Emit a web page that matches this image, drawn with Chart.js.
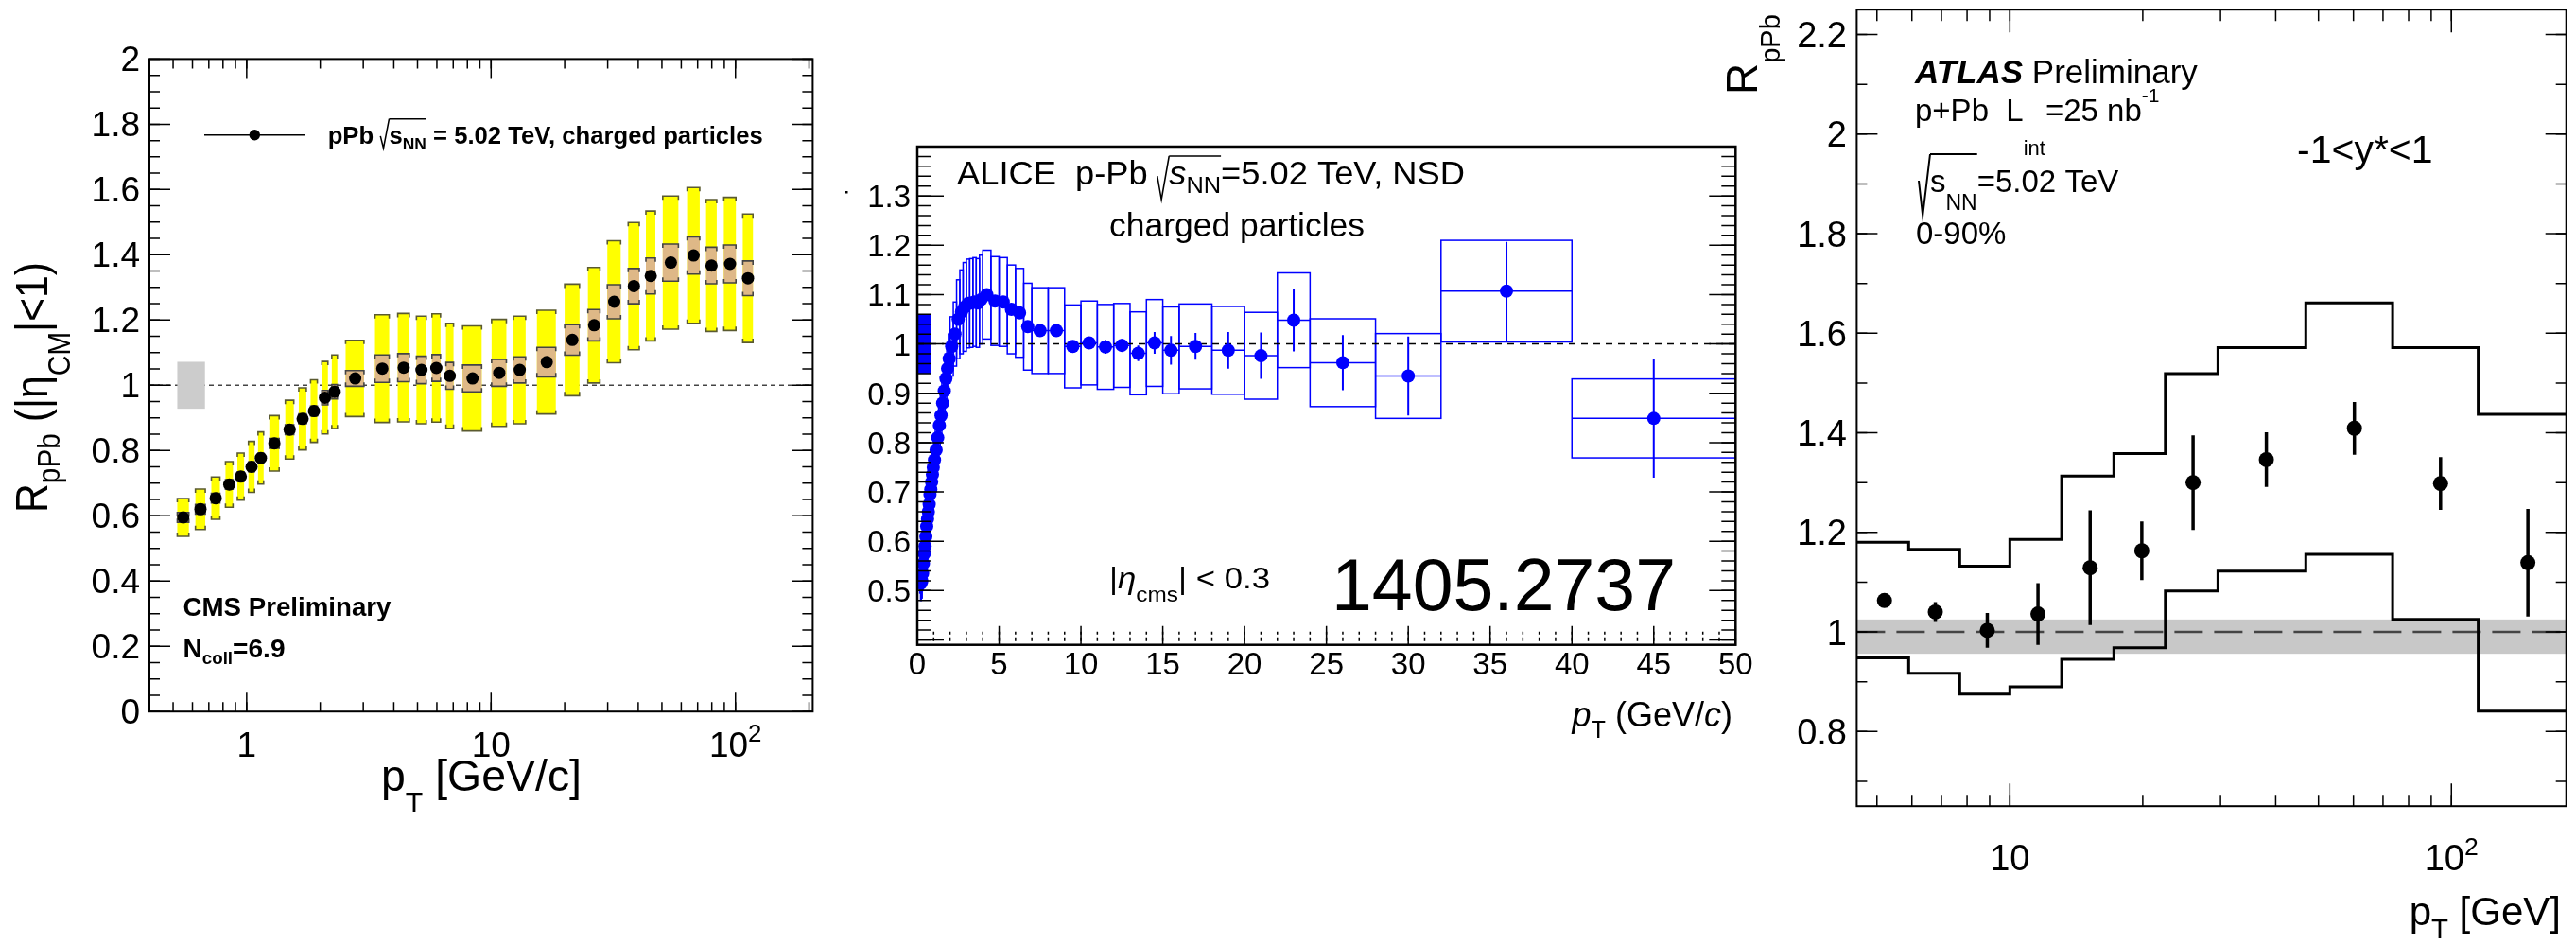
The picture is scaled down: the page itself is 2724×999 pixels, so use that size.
<!DOCTYPE html>
<html>
<head>
<meta charset="utf-8">
<script src="https://cdn.jsdelivr.net/npm/chart.js@4.4.1/dist/chart.umd.min.js"></script>
<style>
  html, body { margin: 0; padding: 0; background: #fff; }
  #wrap { position: relative; width: 2724px; height: 999px; overflow: hidden; }
  canvas { position: absolute; left: 0; top: 0; }
</style>
</head>
<body>
<div id="wrap">
  <canvas id="cms" width="2724" height="999"></canvas>
  <canvas id="alice" width="2724" height="999"></canvas>
  <canvas id="atlas" width="2724" height="999"></canvas>
</div>
<script>
// ---------- CMS data (left panel) ----------
const cmsPt = [0.55, 0.647, 0.747, 0.849, 0.946, 1.047, 1.143, 1.298, 1.499, 1.694, 1.886, 2.09, 2.29,
  2.78, 3.59, 4.39, 5.19, 5.97, 6.78, 8.4, 10.8, 13.1, 16.9, 21.5, 26.4, 31.9, 38.4, 45.0, 54.4, 67.4, 79.8, 95.0, 112.5];
const cmsR = [0.595, 0.62, 0.654, 0.696, 0.72, 0.75, 0.777, 0.822, 0.864, 0.897, 0.921, 0.962, 0.98,
  1.021, 1.051, 1.054, 1.047, 1.053, 1.029, 1.021, 1.038, 1.047, 1.071, 1.139, 1.184, 1.256, 1.304, 1.335, 1.376, 1.398, 1.367, 1.372, 1.328];
const cmsXErr = [0.03, 0.03, 0.03, 0.03, 0.03, 0.03, 0.03, 0.06, 0.06, 0.06, 0.06, 0.06, 0.06,
  0.24, 0.24, 0.24, 0.24, 0.24, 0.24, 0.75, 0.75, 0.75, 1.5, 1.5, 1.5, 2, 2, 2, 4, 4, 4, 5.4, 5.4];
const cmsSysYellow = [0.058, 0.062, 0.065, 0.07, 0.072, 0.078, 0.08, 0.085, 0.09, 0.095, 0.096, 0.111, 0.113,
  0.117, 0.165, 0.166, 0.165, 0.166, 0.161, 0.161, 0.164, 0.165, 0.159, 0.171, 0.177, 0.187, 0.195, 0.199, 0.204, 0.208, 0.202, 0.204, 0.197];
const cmsSysTan = [0.015, 0.015, 0.015, 0.015, 0.015, 0.015, 0.015, 0.015, 0.015, 0.015, 0.015, 0.022, 0.022,
  0.024, 0.042, 0.043, 0.042, 0.041, 0.041, 0.041, 0.041, 0.04, 0.045, 0.047, 0.048, 0.052, 0.054, 0.055, 0.057, 0.057, 0.056, 0.058, 0.053];
const cmsNorm = 0.072;
const cmsNormPt = [0.52, 0.675];
const cmsYTicks = [0, 0.2, 0.4, 0.6, 0.8, 1, 1.2, 1.4, 1.6, 1.8, 2];
const cmsYLabels = ['0', '0.2', '0.4', '0.6', '0.8', '1', '1.2', '1.4', '1.6', '1.8', '2'];
const cmsXTicks = [1, 10, 100];
const cmsXLabels = ['1', '10', '10^2'];

// ---------- ALICE data (middle panel) ----------
const alicePt = [0.175, 0.225, 0.275, 0.325, 0.375, 0.425, 0.475, 0.525, 0.575, 0.625, 0.675, 0.725, 0.775, 0.825, 0.875, 0.925, 0.975,
  1.05, 1.15, 1.25, 1.35, 1.45, 1.55, 1.65, 1.75, 1.85, 1.95,
  2.1, 2.3, 2.5, 2.7, 2.9, 3.1, 3.3, 3.5, 3.7, 3.9,
  4.25, 4.75, 5.25, 5.75, 6.25, 6.75, 7.5, 8.5, 9.5,
  10.5, 11.5, 12.5, 13.5, 14.5, 15.5, 17, 19, 21, 23, 26, 30, 36, 45];
const aliceXErr = [0.025, 0.025, 0.025, 0.025, 0.025, 0.025, 0.025, 0.025, 0.025, 0.025, 0.025, 0.025, 0.025, 0.025, 0.025, 0.025, 0.025,
  0.05, 0.05, 0.05, 0.05, 0.05, 0.05, 0.05, 0.05, 0.05, 0.05,
  0.1, 0.1, 0.1, 0.1, 0.1, 0.1, 0.1, 0.1, 0.1, 0.1,
  0.25, 0.25, 0.25, 0.25, 0.25, 0.25, 0.5, 0.5, 0.5,
  0.5, 0.5, 0.5, 0.5, 0.5, 0.5, 1, 1, 1, 1, 2, 2, 4, 5];
const aliceR = [0.53, 0.515, 0.52, 0.535, 0.555, 0.575, 0.59, 0.61, 0.63, 0.645, 0.66, 0.675, 0.695, 0.705, 0.72, 0.735, 0.75,
  0.765, 0.785, 0.81, 0.835, 0.855, 0.88, 0.905, 0.93, 0.95, 0.97,
  0.995, 1.02, 1.05, 1.065, 1.075, 1.082, 1.083, 1.085, 1.083, 1.09,
  1.1, 1.087, 1.085, 1.07, 1.063, 1.035, 1.027, 1.027, 0.995,
  1.002, 0.994, 0.997, 0.981, 1.002, 0.987, 0.995, 0.987, 0.976, 1.048, 0.962, 0.935, 1.107, 0.849];
const aliceStat = [0.003, 0.003, 0.003, 0.003, 0.003, 0.003, 0.003, 0.003, 0.003, 0.003, 0.003, 0.003, 0.003, 0.003, 0.003, 0.003, 0.003,
  0.003, 0.003, 0.003, 0.003, 0.003, 0.003, 0.003, 0.003, 0.003, 0.003,
  0.003, 0.003, 0.003, 0.003, 0.003, 0.003, 0.003, 0.003, 0.003, 0.003,
  0.003, 0.003, 0.003, 0.003, 0.003, 0.003, 0.003, 0.003, 0.005,
  0.008, 0.014, 0.013, 0.016, 0.022, 0.029, 0.027, 0.037, 0.047, 0.063, 0.056, 0.08, 0.1, 0.12];
const aliceSys = [0.035, 0.035, 0.035, 0.035, 0.035, 0.035, 0.035, 0.035, 0.035, 0.035, 0.035, 0.035, 0.035, 0.035, 0.035, 0.035, 0.035,
  0.05, 0.05, 0.05, 0.05, 0.05, 0.05, 0.05, 0.05, 0.05, 0.05,
  0.06, 0.065, 0.08, 0.085, 0.09, 0.09, 0.09, 0.09, 0.09, 0.09,
  0.09, 0.09, 0.09, 0.09, 0.09, 0.088, 0.087, 0.087, 0.084,
  0.085, 0.086, 0.085, 0.084, 0.088, 0.088, 0.086, 0.089, 0.088, 0.096, 0.089, 0.086, 0.103, 0.08];
const aliceNorm = 0.06;
const aliceNormPt = [0, 0.85];
const aliceYTicks = [0.5, 0.6, 0.7, 0.8, 0.9, 1, 1.1, 1.2, 1.3];
const aliceYLabels = ['0.5', '0.6', '0.7', '0.8', '0.9', '1', '1.1', '1.2', '1.3'];
const aliceXTicks = [0, 5, 10, 15, 20, 25, 30, 35, 40, 45, 50];
const aliceXLabels = ['0', '5', '10', '15', '20', '25', '30', '35', '40', '45', '50'];

// ---------- ATLAS data (right panel) ----------
const atlasPt = [5.2, 6.78, 8.89, 11.58, 15.2, 19.9, 26.0, 38.1, 60.3, 94.5, 149];
const atlasR = [1.063, 1.04, 1.003, 1.036, 1.129, 1.163, 1.3, 1.346, 1.409, 1.298, 1.139];
const atlasErr = [0.008, 0.02, 0.035, 0.062, 0.115, 0.059, 0.095, 0.055, 0.053, 0.053, 0.108];
const atlasEdges = [4.5, 5.9, 7.7, 10, 13.1, 17.2, 22.5, 29.6, 46.8, 73.6, 115, 182];
const atlasSysUp = [1.18, 1.166, 1.132, 1.186, 1.313, 1.358, 1.519, 1.571, 1.661, 1.571, 1.437];
const atlasSysLo = [0.948, 0.917, 0.875, 0.89, 0.945, 0.968, 1.082, 1.122, 1.156, 1.025, 0.841];
const atlasNorm = [0.956, 1.025];
const atlasYTicks = [0.8, 1, 1.2, 1.4, 1.6, 1.8, 2, 2.2];
const atlasYLabels = ['0.8', '1', '1.2', '1.4', '1.6', '1.8', '2', '2.2'];
const atlasXTicks = [10, 100];
const atlasXLabels = ['10', '10^2'];

const FONT = '"Liberation Sans", Arial, Helvetica, sans-serif';
const W = 2724, H = 999;

// ---------- helpers ----------
function rich(ctx, x, y, parts, o) {
  const base = o.size;
  const list = parts.map(p => {
    const size = p.size || ((p.sub || p.sup) ? base * 0.7 : base);
    const it = (p.it !== undefined ? p.it : o.it) ? 'italic ' : '';
    const b = (p.b !== undefined ? p.b : o.b) ? 'bold ' : '';
    const font = it + b + size + 'px ' + FONT;
    let w;
    if (p.rad) w = p.rad.w;
    else { ctx.font = font; w = ctx.measureText(p.t).width; }
    let dy = p.dy;
    if (dy === undefined) dy = p.sub ? base * 0.28 : (p.sup ? -base * 0.42 : 0);
    return { p, font, w, dy };
  });
  const total = list.reduce((s, e) => s + e.w, 0);
  const sx = o.fit ? o.fit / total : 1;
  ctx.save();
  ctx.translate(x, y);
  if (o.rot) ctx.rotate(o.rot);
  const off = o.align === 'right' ? -total * sx : (o.align === 'center' ? -total * sx / 2 : 0);
  ctx.translate(off, 0);
  ctx.scale(sx, 1);
  ctx.fillStyle = o.color || '#000';
  ctx.strokeStyle = o.color || '#000';
  ctx.textBaseline = 'alphabetic';
  ctx.textAlign = 'left';
  let cx = 0, rad = null;
  list.forEach(e => {
    if (e.p.rad) {
      const r = e.p.rad;
      ctx.lineWidth = r.lw || 1.5;
      ctx.beginPath();
      ctx.moveTo(cx, -r.top * 0.3);
      ctx.lineTo(cx + e.w * 0.35, r.bottom);
      ctx.lineTo(cx + e.w, -r.top);
      ctx.stroke();
      rad = { x: cx + e.w, top: r.top, lw: r.lw || 1.5, end: null };
    } else {
      ctx.font = e.font;
      ctx.fillText(e.p.t, cx, e.dy);
    }
    cx += e.w;
    if (rad && e.p.ol) rad.end = cx;
  });
  if (rad && rad.end) {
    ctx.lineWidth = rad.lw;
    ctx.beginPath();
    ctx.moveTo(rad.x, -rad.top);
    ctx.lineTo(rad.end, -rad.top);
    ctx.stroke();
  }
  ctx.restore();
}

function label(ctx, text, x, y, size, align) {
  if (text.includes('^')) {
    const [b, e] = text.split('^');
    rich(ctx, x, y, [{ t: b }, { t: e, sup: true }], { size, align });
  } else {
    rich(ctx, x, y, [{ t: text }], { size, align });
  }
}

function linSteps(min, max, step) {
  const out = [];
  for (let i = Math.ceil(min / step - 1e-9); i * step <= max + 1e-9; i++) out.push(+(i * step).toFixed(6));
  return out;
}

function logSteps(min, max) {
  const out = [];
  for (let d = Math.floor(Math.log10(min)); Math.pow(10, d) <= max; d++) {
    for (let m = 1; m < 10; m++) {
      const v = m * Math.pow(10, d);
      if (v >= min * 0.9999 && v <= max * 1.0001) out.push(v);
    }
  }
  return out;
}

// ticks drawn inside the frame; gap leaves a small space from the axis line
function ticks(chart, axis, vals, len, sides, lw, dash, gap) {
  const ctx = chart.ctx, a = chart.chartArea, s = chart.scales[axis];
  const g = gap || 0;
  ctx.save();
  ctx.strokeStyle = '#000';
  ctx.lineWidth = lw;
  if (dash) ctx.setLineDash(dash);
  ctx.beginPath();
  vals.forEach(v => {
    const p = s.getPixelForValue(v);
    if (axis === 'x') {
      if (p < a.left - 0.5 || p > a.right + 0.5) return;
      if (sides.includes('b')) { ctx.moveTo(p, a.bottom - g); ctx.lineTo(p, a.bottom - g - len); }
      if (sides.includes('t')) { ctx.moveTo(p, a.top + g); ctx.lineTo(p, a.top + g + len); }
    } else {
      if (p < a.top - 0.5 || p > a.bottom + 0.5) return;
      if (sides.includes('l')) { ctx.moveTo(a.left, p); ctx.lineTo(a.left + len, p); }
      if (sides.includes('r')) { ctx.moveTo(a.right, p); ctx.lineTo(a.right - len, p); }
    }
  });
  ctx.stroke();
  ctx.restore();
}

function frame(chart, lw) {
  const ctx = chart.ctx, a = chart.chartArea;
  ctx.save();
  ctx.strokeStyle = '#000';
  ctx.lineWidth = lw;
  ctx.strokeRect(a.left, a.top, a.right - a.left, a.bottom - a.top);
  ctx.restore();
}

function clipArea(chart) {
  const a = chart.chartArea;
  chart.ctx.beginPath();
  chart.ctx.rect(a.left, a.top, a.right - a.left, a.bottom - a.top);
  chart.ctx.clip();
}

// box with dark top/bottom edges and short corner marks (ROOT style)
function capBox(ctx, x0, x1, y0, y1, fill, edge) {
  ctx.fillStyle = fill;
  ctx.fillRect(x0, y0, x1 - x0, y1 - y0);
  ctx.strokeStyle = edge;
  ctx.lineWidth = 1.6;
  const c = Math.min(4, (y1 - y0) / 2);
  ctx.beginPath();
  ctx.moveTo(x0, y0 + c); ctx.lineTo(x0, y0); ctx.lineTo(x1, y0); ctx.lineTo(x1, y0 + c);
  ctx.moveTo(x0, y1 - c); ctx.lineTo(x0, y1); ctx.lineTo(x1, y1); ctx.lineTo(x1, y1 - c);
  ctx.stroke();
}

function baseOptions(pad, xs, ys) {
  return {
    responsive: false,
    animation: false,
    devicePixelRatio: 1,
    events: [],
    layout: { padding: pad },
    scales: { x: Object.assign({ display: false }, xs), y: Object.assign({ display: false }, ys) },
    plugins: { legend: { display: false }, tooltip: { enabled: false } }
  };
}

// ---------- CMS chart ----------
const cmsPlugin = {
  id: 'cmsDecor',
  beforeDatasetsDraw(chart) {
    const ctx = chart.ctx, a = chart.chartArea, X = chart.scales.x, Y = chart.scales.y;
    ctx.save();
    clipArea(chart);
    // dashed unity line
    ctx.strokeStyle = '#444'; ctx.lineWidth = 1.5; ctx.setLineDash([5, 4]);
    ctx.beginPath(); ctx.moveTo(a.left, Y.getPixelForValue(1)); ctx.lineTo(a.right, Y.getPixelForValue(1)); ctx.stroke();
    ctx.setLineDash([]);
    // normalisation uncertainty
    ctx.fillStyle = '#cccccc';
    const nx0 = X.getPixelForValue(cmsNormPt[0]), nx1 = X.getPixelForValue(cmsNormPt[1]);
    const ny0 = Y.getPixelForValue(1 + cmsNorm), ny1 = Y.getPixelForValue(1 - cmsNorm);
    ctx.fillRect(nx0, ny0, nx1 - nx0, ny1 - ny0);
    // systematic boxes
    cmsPt.forEach((pt, i) => {
      const x0 = X.getPixelForValue(pt - cmsXErr[i]), x1 = X.getPixelForValue(pt + cmsXErr[i]);
      capBox(ctx, x0, x1, Y.getPixelForValue(cmsR[i] + cmsSysYellow[i]), Y.getPixelForValue(cmsR[i] - cmsSysYellow[i]), '#ffff00', '#5a5a30');
    });
    cmsPt.forEach((pt, i) => {
      const x0 = X.getPixelForValue(pt - cmsXErr[i]), x1 = X.getPixelForValue(pt + cmsXErr[i]);
      capBox(ctx, x0, x1, Y.getPixelForValue(cmsR[i] + cmsSysTan[i]), Y.getPixelForValue(cmsR[i] - cmsSysTan[i]), '#deb887', '#444');
    });
    ctx.restore();
  },
  afterDraw(chart) {
    const ctx = chart.ctx, X = chart.scales.x, Y = chart.scales.y;
    frame(chart, 2);
    ticks(chart, 'y', linSteps(0, 2, 0.05), 11, 'lr', 1.5);
    ticks(chart, 'y', cmsYTicks, 22, 'lr', 1.5);
    ticks(chart, 'x', logSteps(X.min, X.max), 10, 'bt', 1.5);
    ticks(chart, 'x', cmsXTicks, 20, 'bt', 1.5);
    cmsYTicks.forEach((v, i) => label(ctx, cmsYLabels[i], 148, Y.getPixelForValue(v) + 13, 37, 'right'));
    cmsXTicks.forEach((v, i) => label(ctx, cmsXLabels[i], X.getPixelForValue(v), 800, 37, 'center'));
    // axis titles
    rich(ctx, 50, 542, [{ t: 'R' }, { t: 'pPb', sub: true, dy: 13 }, { t: ' (|' }, { t: 'η' }, { t: 'CM', sub: true, dy: 24 }, { t: '|<1)' }],
      { size: 48, rot: -Math.PI / 2, fit: 265 });
    rich(ctx, 403, 836, [{ t: 'p' }, { t: 'T', sub: true, size: 30, dy: 22 }, { t: ' [GeV/c]' }], { size: 46, fit: 212 });
    // legend
    ctx.save();
    ctx.strokeStyle = '#000'; ctx.lineWidth = 1.5;
    ctx.beginPath(); ctx.moveTo(216, 142.7); ctx.lineTo(323, 142.7); ctx.stroke();
    ctx.fillStyle = '#000'; ctx.beginPath(); ctx.arc(269.3, 142.7, 5.7, 0, Math.PI * 2); ctx.fill();
    ctx.restore();
    rich(ctx, 346.7, 151.7, [{ t: 'pPb ' }, { rad: { w: 9, top: 26, bottom: 5, lw: 1.5 } }, { t: 's', ol: true },
      { t: 'NN', sub: true, size: 17, dy: 6, ol: true }, { t: ' = 5.02 TeV, charged particles' }], { size: 25, b: true, fit: 460 });
    rich(ctx, 193.5, 651, [{ t: 'CMS Preliminary' }], { size: 27, b: true, fit: 220 });
    rich(ctx, 193.5, 695, [{ t: 'N' }, { t: 'coll', sub: true, size: 18, dy: 7 }, { t: '=6.9' }], { size: 27, b: true, fit: 108 });
  }
};

new Chart(document.getElementById('cms'), {
  type: 'scatter',
  data: {
    datasets: [{
      data: cmsPt.map((x, i) => ({ x, y: cmsR[i] })),
      pointRadius: 6.5, pointBackgroundColor: '#000', pointBorderWidth: 0, borderWidth: 0
    }]
  },
  options: baseOptions({ left: 158, right: W - 859.4, top: 62.4, bottom: H - 752.2 },
    { type: 'logarithmic', min: 0.4, max: 207 }, { type: 'linear', min: 0, max: 2 }),
  plugins: [cmsPlugin]
});

// ---------- ALICE chart ----------
const alicePlugin = {
  id: 'aliceDecor',
  beforeDatasetsDraw(chart) {
    const ctx = chart.ctx, a = chart.chartArea, X = chart.scales.x, Y = chart.scales.y;
    ctx.save();
    clipArea(chart);
    ctx.fillStyle = '#0000ff';
    const nx0 = X.getPixelForValue(aliceNormPt[0]), nx1 = X.getPixelForValue(aliceNormPt[1]);
    const ny0 = Y.getPixelForValue(1 + aliceNorm), ny1 = Y.getPixelForValue(1 - aliceNorm);
    ctx.fillRect(nx0, ny0, nx1 - nx0, ny1 - ny0);
    ctx.strokeStyle = '#0000ff'; ctx.lineWidth = 1.5;
    alicePt.forEach((pt, i) => {
      const x0 = X.getPixelForValue(pt - aliceXErr[i]), x1 = X.getPixelForValue(pt + aliceXErr[i]);
      const y0 = Y.getPixelForValue(aliceR[i] + aliceSys[i]), y1 = Y.getPixelForValue(aliceR[i] - aliceSys[i]);
      ctx.strokeRect(x0, y0, x1 - x0, y1 - y0);
    });
    // dashed unity line
    ctx.strokeStyle = '#000'; ctx.lineWidth = 1.5; ctx.setLineDash([7, 6]);
    ctx.beginPath(); ctx.moveTo(a.left, Y.getPixelForValue(1)); ctx.lineTo(a.right, Y.getPixelForValue(1)); ctx.stroke();
    ctx.setLineDash([]);
    // error bars
    ctx.strokeStyle = '#0000ff';
    alicePt.forEach((pt, i) => {
      const xp = X.getPixelForValue(pt), yp = Y.getPixelForValue(aliceR[i]);
      ctx.lineWidth = 1.5;
      ctx.beginPath();
      ctx.moveTo(X.getPixelForValue(pt - aliceXErr[i]), yp); ctx.lineTo(X.getPixelForValue(pt + aliceXErr[i]), yp);
      ctx.stroke();
      ctx.lineWidth = 2;
      ctx.beginPath();
      ctx.moveTo(xp, Y.getPixelForValue(aliceR[i] + aliceStat[i])); ctx.lineTo(xp, Y.getPixelForValue(aliceR[i] - aliceStat[i]));
      ctx.stroke();
    });
    ctx.restore();
  },
  afterDraw(chart) {
    const ctx = chart.ctx, X = chart.scales.x, Y = chart.scales.y;
    frame(chart, 2.5);
    ticks(chart, 'y', linSteps(0.39, 1.4, 0.02), 15, 'lr', 1.5);
    ticks(chart, 'y', linSteps(0.39, 1.4, 0.1), 28, 'lr', 1.5);
    ticks(chart, 'x', linSteps(0, 50, 1), 10, 'b', 1.5, [4, 3], 4);
    ticks(chart, 'x', aliceXTicks, 20, 'b', 1.5);
    aliceYTicks.forEach((v, i) => label(ctx, aliceYLabels[i], 963, Y.getPixelForValue(v) + 12, 33, 'right'));
    aliceXTicks.forEach((v, i) => label(ctx, aliceXLabels[i], X.getPixelForValue(v), 713, 33, 'center'));
    rich(ctx, 1832, 768, [{ t: 'p', it: true }, { t: 'T', sub: true, dy: 12 }, { t: ' (GeV/' }, { t: 'c', it: true }, { t: ')' }],
      { size: 36, align: 'right' });
    rich(ctx, 1012, 195, [{ t: 'ALICE  p-Pb ' }, { rad: { w: 12, top: 30, bottom: 16, lw: 1.5 } }, { t: 's', it: true, ol: true },
      { t: 'NN', sub: true, dy: 9, ol: true }, { t: '=5.02 TeV, NSD' }], { size: 35, fit: 537 });
    rich(ctx, 1173, 250, [{ t: 'charged particles' }], { size: 35, fit: 270 });
    rich(ctx, 1173, 622, [{ t: '|' }, { t: 'η', it: true }, { t: 'cms', sub: true, dy: 14 }, { t: '| < 0.3' }], { size: 32, fit: 170 });
    rich(ctx, 1408, 645, [{ t: '1405.2737' }], { size: 77 });
    ctx.fillStyle = '#000';
    ctx.fillRect(894, 202, 2.5, 2.5);
  }
};

new Chart(document.getElementById('alice'), {
  type: 'scatter',
  data: {
    datasets: [{
      data: alicePt.map((x, i) => ({ x, y: aliceR[i] })),
      pointRadius: 7, pointBackgroundColor: '#0000ff', pointBorderWidth: 0, borderWidth: 0
    }]
  },
  options: baseOptions({ left: 970, right: W - 1835.3, top: 155, bottom: H - 681.7 },
    { type: 'linear', min: 0, max: 50 }, { type: 'linear', min: 0.39, max: 1.4 }),
  plugins: [alicePlugin]
});

// ---------- ATLAS chart ----------
const atlasPlugin = {
  id: 'atlasDecor',
  beforeDatasetsDraw(chart) {
    const ctx = chart.ctx, a = chart.chartArea, X = chart.scales.x, Y = chart.scales.y;
    ctx.save();
    clipArea(chart);
    ctx.fillStyle = '#c8c8c8';
    const b0 = Y.getPixelForValue(atlasNorm[1]), b1 = Y.getPixelForValue(atlasNorm[0]);
    ctx.fillRect(a.left, b0, a.right - a.left, b1 - b0);
    ctx.strokeStyle = '#444'; ctx.lineWidth = 2.5; ctx.setLineDash([30, 12]);
    ctx.beginPath(); ctx.moveTo(a.left, Y.getPixelForValue(1)); ctx.lineTo(a.right, Y.getPixelForValue(1)); ctx.stroke();
    ctx.setLineDash([]);
    ctx.strokeStyle = '#000'; ctx.lineWidth = 3.5;
    atlasPt.forEach((pt, i) => {
      const xp = X.getPixelForValue(pt);
      ctx.beginPath();
      ctx.moveTo(xp, Y.getPixelForValue(atlasR[i] + atlasErr[i])); ctx.lineTo(xp, Y.getPixelForValue(atlasR[i] - atlasErr[i]));
      ctx.stroke();
    });
    ctx.restore();
  },
  afterDraw(chart) {
    const ctx = chart.ctx, X = chart.scales.x, Y = chart.scales.y;
    frame(chart, 2);
    ticks(chart, 'y', linSteps(0.7, 2.2, 0.1), 11, 'lr', 1.5);
    ticks(chart, 'y', atlasYTicks, 22, 'lr', 1.5);
    ticks(chart, 'x', logSteps(X.min, X.max), 12, 'bt', 1.5);
    ticks(chart, 'x', atlasXTicks, 24, 'bt', 1.5);
    atlasYTicks.forEach((v, i) => label(ctx, atlasYLabels[i], 1953, Y.getPixelForValue(v) + 13.5, 38, 'right'));
    atlasXTicks.forEach((v, i) => label(ctx, atlasXLabels[i], X.getPixelForValue(v), 920, 38, 'center'));
    rich(ctx, 2708, 978, [{ t: 'p' }, { t: 'T', sub: true, dy: 14 }, { t: ' [GeV]' }], { size: 42, align: 'right' });
    rich(ctx, 1858, 100, [{ t: 'R' }, { t: 'pPb', sub: true, size: 29, dy: 24 }], { size: 46, rot: -Math.PI / 2 });
    rich(ctx, 2025, 88, [{ t: 'ATLAS', b: true, it: true }, { t: ' Preliminary' }], { size: 35 });
    rich(ctx, 2025, 128, [{ t: 'p+Pb  L' }, { t: 'int', sub: true, size: 22, dy: 36 }, { t: '=25 nb' }, { t: '-1', sup: true, size: 21, dy: -20 }],
      { size: 33 });
    rich(ctx, 2029, 203, [{ rad: { w: 12, top: 40, bottom: 25, lw: 2 } }, { t: 's', ol: true }, { t: 'NN', sub: true, size: 23, dy: 19, ol: true },
      { t: '=5.02 TeV' }], { size: 33 });
    rich(ctx, 2026, 258, [{ t: '0-90%' }], { size: 33 });
    rich(ctx, 2429, 172, [{ t: '-1<y*<1' }], { size: 41 });
  }
};

const atlasStep = (vals) => atlasEdges.map((e, i) => ({ x: e, y: vals[Math.min(i, vals.length - 1)] }));

new Chart(document.getElementById('atlas'), {
  type: 'scatter',
  data: {
    datasets: [
      {
        data: atlasPt.map((x, i) => ({ x, y: atlasR[i] })),
        pointRadius: 8, pointBackgroundColor: '#000', pointBorderWidth: 0, borderWidth: 0
      },
      { data: atlasStep(atlasSysUp), showLine: true, stepped: true, borderColor: '#000', borderWidth: 3, pointRadius: 0, fill: false },
      { data: atlasStep(atlasSysLo), showLine: true, stepped: true, borderColor: '#000', borderWidth: 3, pointRadius: 0, fill: false }
    ]
  },
  options: baseOptions({ left: 1963.4, right: W - 2713.7, top: 10.2, bottom: H - 852.2 },
    { type: 'logarithmic', min: 4.5, max: 182 }, { type: 'linear', min: 0.65, max: 2.25 }),
  plugins: [atlasPlugin]
});
</script>
</body>
</html>
